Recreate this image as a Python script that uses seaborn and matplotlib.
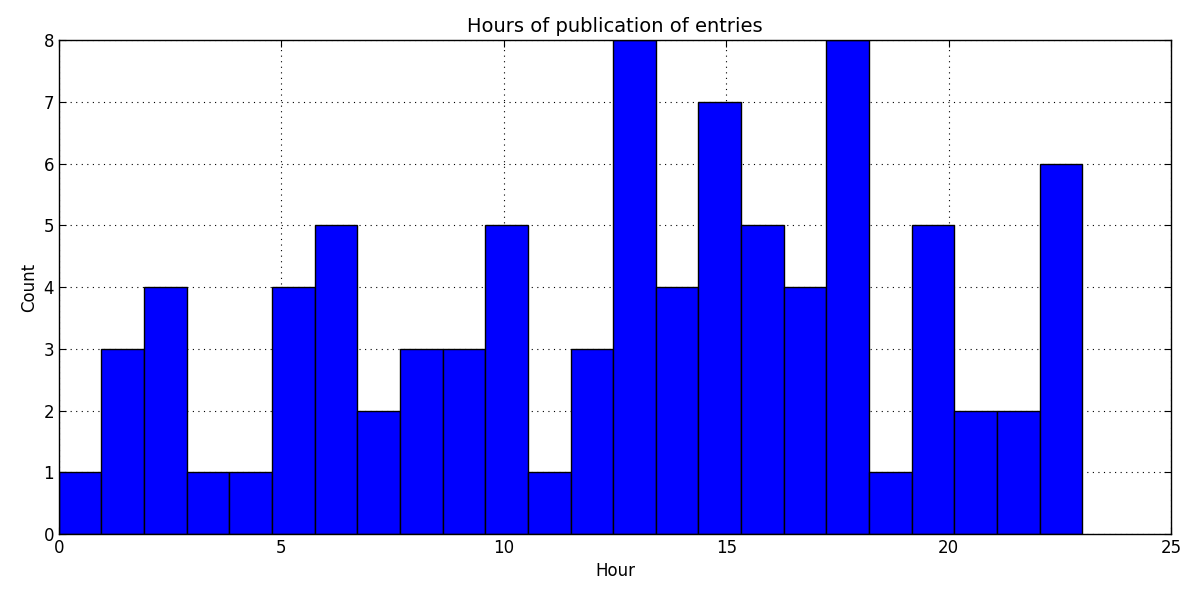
import numpy as np
import seaborn as sns
import matplotlib.pyplot as plt

# entries per hour of the day (0..23)
hours_of_day = list(range(24))
entry_counts = [1, 3, 4, 1, 1, 4, 5, 2, 3, 3, 5, 1,
                3, 8, 4, 7, 5, 4, 8, 1, 5, 2, 2, 6]

sns.set_style("ticks")
plt.rcParams['font.family'] = ['DejaVu Sans']
plt.rcParams['text.color'] = 'black'
plt.rcParams['axes.labelcolor'] = 'black'

fig = plt.figure(figsize=(12, 6), dpi=100)
ax = fig.add_axes([0.049, 0.11, 0.927, 0.823])

sns.histplot(
    x=hours_of_day,
    weights=entry_counts,
    bins=24,
    binrange=(0, 23),
    color='#0000ff',
    edgecolor='black',
    linewidth=1,
    alpha=1,
    ax=ax,
)

ax.set_xlim(0, 25)
ax.set_ylim(0, 8)
ax.set_xticks(range(0, 26, 5))
ax.set_yticks(range(0, 9))
ax.grid(True, color='black', linestyle=(0, (1, 4)), linewidth=0.8)
ax.set_axisbelow(True)
for side in ['top', 'right', 'left', 'bottom']:
    ax.spines[side].set_visible(True)
    ax.spines[side].set_color('black')
    ax.spines[side].set_linewidth(1)
    ax.spines[side].set_zorder(5)
ax.tick_params(direction='in', top=True, right=True, length=5,
               labelsize=12, colors='black')

ax.set_title("Hours of publication of entries", fontsize=14, color='black')
ax.set_xlabel("Hour", fontsize=12)
ax.set_ylabel("Count", fontsize=12)

plt.savefig("out.png")
